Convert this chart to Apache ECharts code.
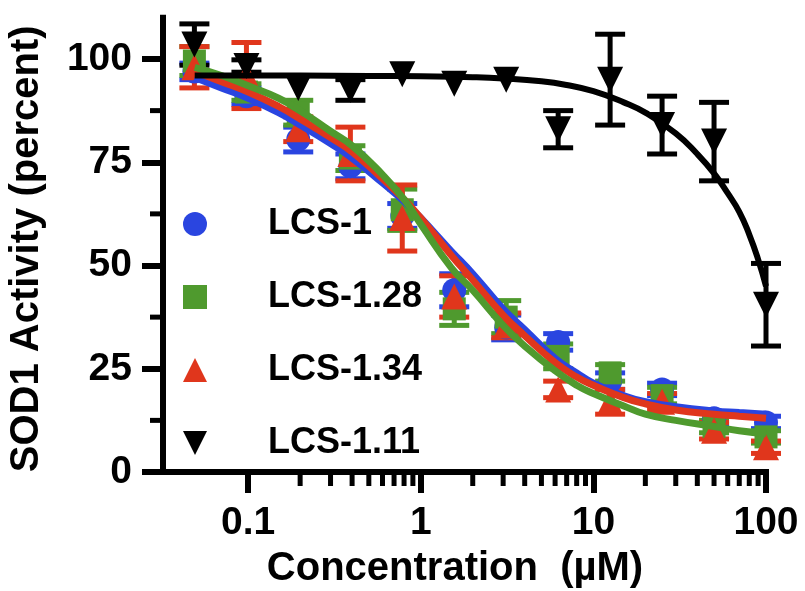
<!DOCTYPE html>
<html><head><meta charset="utf-8">
<script src="https://cdn.jsdelivr.net/npm/echarts@6/dist/echarts.min.js"></script>
<style>html,body{margin:0;padding:0;background:#fff}#c{width:805px;height:591px}</style>
</head><body><div id="c"></div>
<script>
// Concentrations (µM), two-fold dilutions
const conc = [0.0488, 0.0977, 0.195, 0.391, 0.781, 1.5625, 3.125, 6.25, 12.5, 25, 50, 100];

// Measured SOD1 activity (percent) and error bars
const lcs1Mean   = [97, 91, 80.5, 74, 62, 44, 35, 31.5, 22, 20, 13, 12];
const lcs1Err    = [2, 2, 3, 3, 3, 4, 3, 2, 2, 1.5, 1.5, 1.5];
const lcs128Mean = [99.5, 92, 87, 76, 63.5, 39.5, 37.5, 28, 24, 18.5, 11, 8.5];
const lcs128Err  = [3.5, 2, 3, 3, 5, 4, 4, 3, 2, 2, 1.5, 1.5];
const lcs134Mean = [98, 96, 83, 77, 61.5, 42.5, 35.5, 20, 17, 17, 10, 6];
const lcs134Err  = [5, 8, 3, 6.5, 8, 5, 3, 2, 3, 2, 2, 1.5];
const lcs111Mean = [103.5, 98.3, 93, 92.5, 96.3, 94, 95, 83, 95, 84, 80, 40.5];
const lcs111Err  = [5, 1.5, 0, 2.5, 0, 0, 0, 4.5, 11, 7, 9.5, 10];

// Fitted curves
const fitX      = [0.049, 0.07, 0.1, 0.15, 0.2, 0.3, 0.4, 0.6, 0.8, 1, 1.5, 2, 3, 4, 6, 8, 10, 15, 20, 30, 50, 70, 100];
const lcs1Fit   = [95.5, 93, 90.5, 87, 84, 79.5, 76, 70, 65.5, 61.5, 53.5, 48, 39.5, 34.5, 27.5, 24, 21.5, 18.5, 17, 15.8, 14.8, 14.4, 14];
const lcs128Fit = [98, 96, 93.5, 90.5, 87.5, 82.5, 79, 72, 66, 60, 49.5, 44, 35.5, 30.5, 24.5, 21, 19, 16, 14, 12.5, 11, 10, 9.3];
const lcs134Fit = [97, 94.5, 92, 88.5, 85.5, 81, 77.5, 71, 66, 61.5, 52.5, 46.5, 38, 33, 26.5, 23, 21, 18, 16.5, 15, 14, 13.5, 13];
const fit111X   = [0.049, 0.1, 0.2, 0.5, 1, 2, 3, 5, 7, 10, 15, 20, 30, 40, 50, 60, 70, 80, 90, 100];
const lcs111Fit = [96, 96, 96, 95.9, 95.8, 95.6, 95.3, 94.6, 93.7, 92.2, 89.5, 87, 82, 77, 72.3, 67.5, 63, 57.5, 51.5, 45];

// Axis ticks
const xMin = 0.0321, xMax = 100, yMin = 0, yMax = 110;
const xMajorTicks = [0.1, 1, 10, 100];
const xTickLabels = ['0.1', '1', '10', '100'];
const xMinorTicks = [0.2,0.3,0.4,0.5,0.6,0.7,0.8,0.9, 2,3,4,5,6,7,8,9, 20,30,40,50,60,70,80,90];
const yMajorTicks = [0, 25, 50, 75, 100];
const yMinorTicks = [12.5, 37.5, 62.5, 87.5];

const names = ['LCS-1', 'LCS-1.28', 'LCS-1.34', 'LCS-1.11'];
const colors = ['#2a45e0', '#4f9a2e', '#e0361c', '#000000'];
const FONT = "'Liberation Sans', Arial, sans-serif";

function errSeries(name, means, errs, color) {
  return {
    type: 'custom', name: name + ' err', z: 2,
    data: conc.map((c, i) => [c, means[i] - errs[i], means[i] + errs[i]]).filter(d => d[2] > d[1]),
    encode: { x: 0, y: [1, 2] },
    renderItem: (params, api) => {
      const x = api.value(0);
      const lo = api.coord([x, api.value(1)]);
      const hi = api.coord([x, api.value(2)]);
      const hw = 15;
      const st = { stroke: color, lineWidth: 5 };
      return { type: 'group', children: [
        { type: 'line', shape: { x1: lo[0], y1: lo[1], x2: hi[0], y2: hi[1] }, style: st },
        { type: 'line', shape: { x1: hi[0] - hw, y1: hi[1], x2: hi[0] + hw, y2: hi[1] }, style: st },
        { type: 'line', shape: { x1: lo[0] - hw, y1: lo[1], x2: lo[0] + hw, y2: lo[1] }, style: st }
      ]};
    }
  };
}
function pointSeries(name, means, color, symbol, size, rotate) {
  return {
    type: 'scatter', name: name, z: 3,
    data: conc.map((c, i) => [c, means[i]]),
    symbol: symbol, symbolSize: size, symbolRotate: rotate || 0,
    itemStyle: { color: color, opacity: 1 }
  };
}
function fitSeries(name, xs, ys, color, w) {
  return {
    type: 'line', name: name + ' fit', z: 4,
    data: xs.map((x, i) => [x, ys[i]]),
    smooth: 0.5, showSymbol: false, symbol: 'none',
    lineStyle: { color: color, width: w }
  };
}
// minor ticks placed through the axis scales (small rect marks)
const minorTickSeriesX = {
  type: 'scatter', name: 'x minor ticks', silent: true, z: 1, clip: false,
  data: xMinorTicks.map(v => [v, yMin]),
  symbol: 'rect', symbolSize: [5, 14], symbolOffset: [0, 7],
  itemStyle: { color: '#000', opacity: 1 },
  emphasis: { disabled: true }, tooltip: { show: false }
};
const minorTickSeriesY = {
  type: 'scatter', name: 'y minor ticks', silent: true, z: 1, clip: false,
  data: yMinorTicks.map(v => [xMin, v]),
  symbol: 'rect', symbolSize: [13, 5], symbolOffset: [-6.5, 0],
  itemStyle: { color: '#000', opacity: 1 },
  emphasis: { disabled: true }, tooltip: { show: false }
};

const chart = echarts.init(document.getElementById('c'), null, { renderer: 'canvas' });
chart.setOption({
  animation: false,
  backgroundColor: '#fff',
  grid: { left: 163, right: 39, top: 17.7, bottom: 119, containLabel: false, outerBoundsMode: 'none' },
  legend: {
    orient: 'vertical', left: 178, top: 201,
    itemWidth: 24, itemHeight: 24, itemGap: 37,
    selectedMode: false,
    textStyle: { fontSize: 36, fontWeight: 'bold', fontFamily: FONT, color: '#000', lineHeight: 36, padding: [0, 0, 0, 56] },
    data: [
      { name: 'LCS-1', icon: 'circle' },
      { name: 'LCS-1.28', icon: 'rect' },
      { name: 'LCS-1.34', icon: 'triangle' },
      { name: 'LCS-1.11', icon: 'path://M0,0L10,0L5,10Z' }
    ]
  },
  xAxis: {
    type: 'log', logBase: 10, min: xMin, max: xMax, position: 'bottom',
    axisLine: { show: true, lineStyle: { color: '#000', width: 6, cap: 'square' } },
    axisTick: { show: true, customValues: xMajorTicks, length: 21, lineStyle: { color: '#000', width: 6 } },
    axisLabel: {
      customValues: xMajorTicks, margin: 32,
      formatter: v => { const i = xMajorTicks.findIndex(t => Math.abs(Math.log10(t) - Math.log10(v)) < 1e-6); return i >= 0 ? xTickLabels[i] : ''; },
      fontSize: 39, fontWeight: 'bold', fontFamily: FONT, color: '#000'
    },
    splitLine: { show: false },
    name: 'Concentration  (µM)', nameLocation: 'middle', nameGap: 77,
    nameTextStyle: { fontSize: 40, fontWeight: 'bold', fontFamily: FONT, color: '#000', padding: [0, 19, 0, 0] }
  },
  yAxis: {
    type: 'value', min: yMin, max: yMax, position: 'left',
    axisLine: { show: true, lineStyle: { color: '#000', width: 6, cap: 'square' } },
    axisTick: { show: true, customValues: yMajorTicks, length: 21, lineStyle: { color: '#000', width: 6 } },
    axisLabel: { customValues: yMajorTicks, margin: 31, fontSize: 39, fontWeight: 'bold', fontFamily: FONT, color: '#000' },
    splitLine: { show: false },
    name: 'SOD1 Activity (percent)', nameLocation: 'middle', nameGap: 116, nameRotate: 90,
    nameTextStyle: { fontSize: 40, fontWeight: 'bold', fontFamily: FONT, color: '#000', padding: [0, 8, 0, 0] }
  },
  series: [
    minorTickSeriesX,
    minorTickSeriesY,
    errSeries(names[0], lcs1Mean, lcs1Err, colors[0]),
    errSeries(names[1], lcs128Mean, lcs128Err, colors[1]),
    errSeries(names[2], lcs134Mean, lcs134Err, colors[2]),
    errSeries(names[3], lcs111Mean, lcs111Err, colors[3]),
    pointSeries(names[0], lcs1Mean, colors[0], 'circle', 24),
    pointSeries(names[1], lcs128Mean, colors[1], 'rect', 23),
    pointSeries(names[2], lcs134Mean, colors[2], 'triangle', 26),
    pointSeries(names[3], lcs111Mean, colors[3], 'triangle', 26, 180),
    fitSeries(names[0], fitX, lcs1Fit, colors[0], 7),
    fitSeries(names[2], fitX, lcs134Fit, colors[2], 7),
    fitSeries(names[1], fitX, lcs128Fit, colors[1], 7),
    fitSeries(names[3], fit111X, lcs111Fit, colors[3], 6)
  ]
});
</script>
</body></html>
